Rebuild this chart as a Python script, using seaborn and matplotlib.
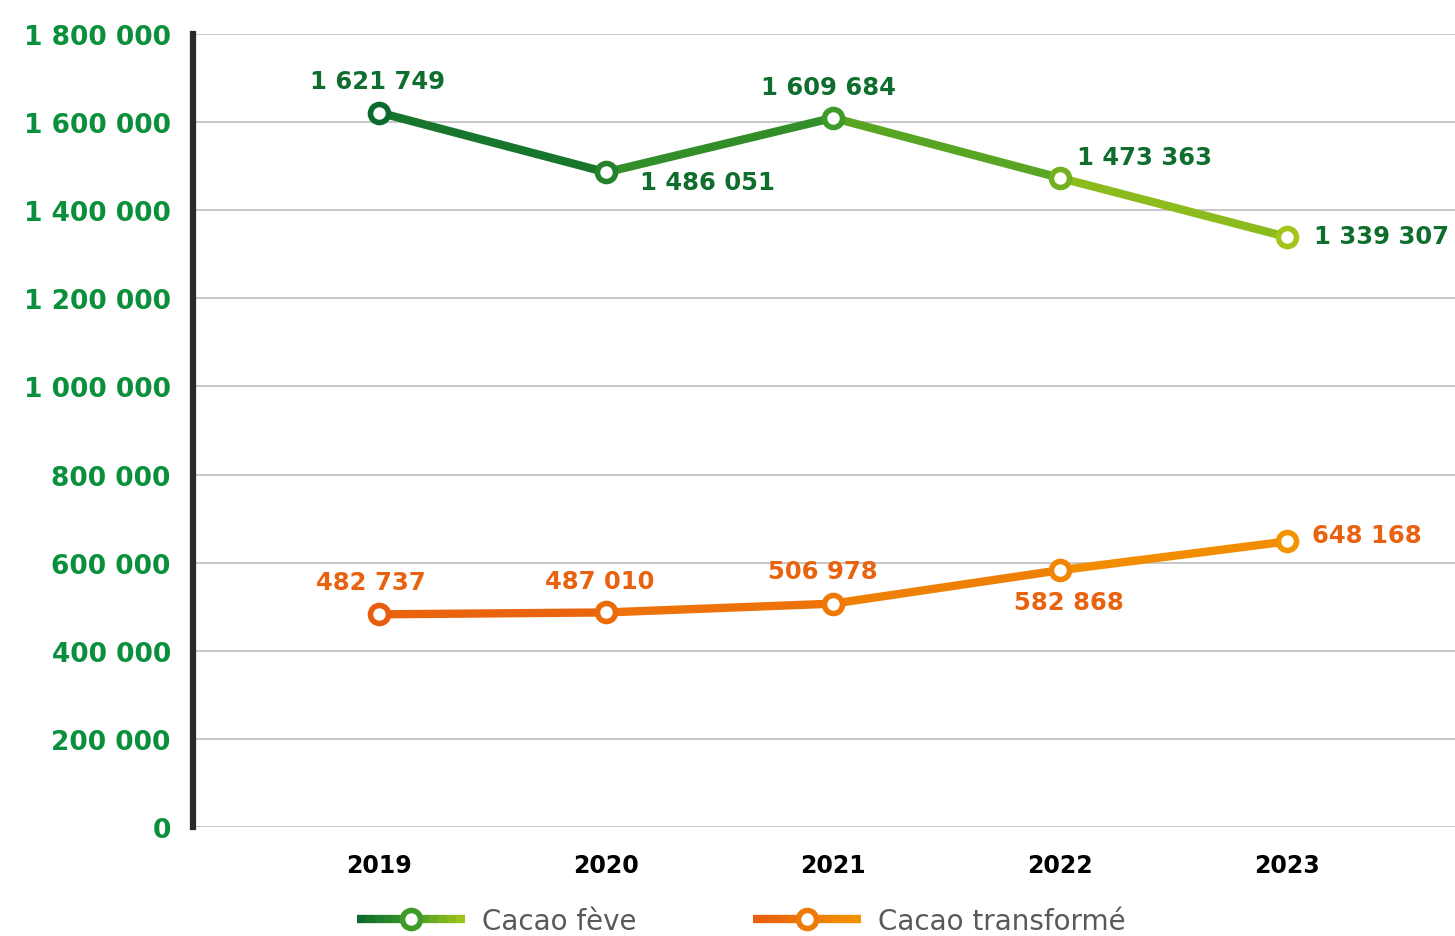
import numpy as np
import pandas as pd
import matplotlib
matplotlib.use("Agg")
import matplotlib.pyplot as plt
import seaborn as sns
from matplotlib.colors import LinearSegmentedColormap
from matplotlib.lines import Line2D
from matplotlib.legend_handler import HandlerBase

years = [2019, 2020, 2021, 2022, 2023]
feve = [1621749, 1486051, 1609684, 1473363, 1339307]
transforme = [482737, 487010, 506978, 582868, 648168]
y_ticks = [0, 200000, 400000, 600000, 800000, 1000000, 1200000, 1400000, 1600000, 1800000]
series_names = ["Cacao fève", "Cacao transformé"]

green_cmap = LinearSegmentedColormap.from_list("g", ["#0b6a2e", "#3f9a28", "#a3c618"])
orange_cmap = LinearSegmentedColormap.from_list("o", ["#e85d0f", "#f39400"])

# label offsets in pixels (dx, dy) and alignment
feve_off = [(-2, 32, "center"), (34, -10, "left"), (-5, 31, "center"), (17, 21, "left"), (27, 1, "left")]
trans_off = [(-8, 32, "center"), (-6, 31, "center"), (-10, 33, "center"), (9, -32, "center"), (25, 6, "left")]

sns.set_theme(style="white")
plt.rcParams["font.family"] = ["DejaVu Sans"]

fig = plt.figure(figsize=(14.55, 9.37), dpi=100)
ax = fig.add_axes([193 / 1455, (937 - 828) / 937, (1455 - 193) / 1455, (828 - 35) / 937])

df = pd.DataFrame({"year": years, "feve": feve, "trans": transforme})


def fmt(v):
    return f"{v:,}".replace(",", " ")


def draw_series(col, cmap, offsets, label_color):
    n = len(df)
    for i in range(n - 1):
        seg = df.iloc[i:i + 2]
        sns.lineplot(data=seg, x="year", y=col, ax=ax, color=cmap((i + 0.5) / (n - 1)),
                     linewidth=6, solid_capstyle="round", zorder=3)
    for i, (x, y) in enumerate(zip(df["year"], df[col])):
        ax.plot(x, y, marker="o", markersize=13, markerfacecolor="white",
                markeredgecolor=cmap(i / (n - 1)), markeredgewidth=4, zorder=4)
        dx, dy, ha = offsets[i]
        ax.annotate(fmt(y), (x, y), xytext=(dx, dy), textcoords="offset pixels",
                    ha=ha, va="center", fontsize=17.5, fontweight="bold", color=label_color)


draw_series("feve", green_cmap, feve_off, "#0f6e2e")
draw_series("trans", orange_cmap, trans_off, "#e8620f")

ax.set_xlim(2018.18, 2023.74)
ax.set_ylim(0, 1800000)
ax.set_yticks(y_ticks)
ax.set_yticklabels([fmt(v) for v in y_ticks], fontsize=19, fontweight="bold", color="#0a8f3c")
ax.set_xticks(years)
ax.set_xticklabels([str(y) for y in years], fontsize=17, fontweight="bold", color="black")
ax.tick_params(axis="y", length=0, pad=16)
ax.tick_params(axis="x", length=0, pad=19)
ax.set_xlabel("")
ax.set_ylabel("")
ax.grid(axis="y", color="#bdbdbd", linewidth=1.2)
ax.set_axisbelow(True)
for s in ["top", "right", "bottom"]:
    ax.spines[s].set_visible(False)
ax.spines["left"].set_color("#2a2a2a")
ax.spines["left"].set_linewidth(4.5)
ax.spines["left"].set_zorder(5)


class GradHandler(HandlerBase):
    def __init__(self, cmap):
        super().__init__()
        self.cmap = cmap

    def create_artists(self, legend, orig_handle, xdescent, ydescent, width, height, fontsize, trans):
        y = height / 2 - ydescent
        arts = []
        k = 12
        for j in range(k):
            x0 = -xdescent + width * j / k
            x1 = -xdescent + width * (j + 1) / k
            arts.append(Line2D([x0, x1], [y, y], color=self.cmap((j + 0.5) / k),
                               linewidth=6, transform=trans, solid_capstyle="butt"))
        arts.append(Line2D([-xdescent + width / 2], [y], marker="o", markersize=13,
                           markerfacecolor="white", markeredgecolor=self.cmap(0.5),
                           markeredgewidth=4, transform=trans))
        return arts


h1 = Line2D([], [])
h2 = Line2D([], [])
leg = fig.legend([h1, h2], series_names,
                 handler_map={h1: GradHandler(green_cmap), h2: GradHandler(orange_cmap)},
                 loc="center", bbox_to_anchor=(741 / 1455, 1 - 922 / 937), ncol=2,
                 frameon=False, fontsize=20, handlelength=3.9, handletextpad=0.6,
                 columnspacing=4.2, borderpad=0.2)
for t in leg.get_texts():
    t.set_color("#58595b")

fig.savefig("out.png", dpi=100)
